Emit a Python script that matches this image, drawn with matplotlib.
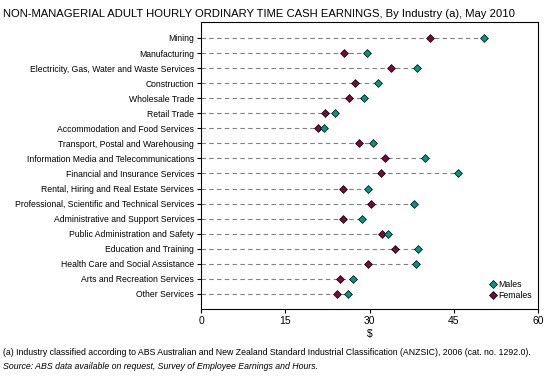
import matplotlib
matplotlib.use("Agg")
import matplotlib.pyplot as plt
from matplotlib.lines import Line2D

plt.rcParams['font.family'] = ['Liberation Sans Narrow', 'Liberation Sans', 'DejaVu Sans']

industries = [
    "Mining",
    "Manufacturing",
    "Electricity, Gas, Water and Waste Services",
    "Construction",
    "Wholesale Trade",
    "Retail Trade",
    "Accommodation and Food Services",
    "Transport, Postal and Warehousing",
    "Information Media and Telecommunications",
    "Financial and Insurance Services",
    "Rental, Hiring and Real Estate Services",
    "Professional, Scientific and Technical Services",
    "Administrative and Support Services",
    "Public Administration and Safety",
    "Education and Training",
    "Health Care and Social Assistance",
    "Arts and Recreation Services",
    "Other Services",
]
males = [50.3, 29.6, 38.5, 31.5, 29.1, 23.8, 21.9, 30.6, 39.9,
         45.8, 29.8, 37.9, 28.6, 33.3, 38.7, 38.2, 27.1, 26.2]
females = [40.7, 25.4, 33.8, 27.4, 26.3, 22.1, 20.9, 28.2, 32.8,
           32.1, 25.3, 30.2, 25.2, 32.3, 34.5, 29.8, 24.8, 24.3]
x_ticks = [0, 15, 30, 45, 60]

male_col = "#009882"
female_col = "#7a0a3c"

fig = plt.figure(figsize=(5.48, 3.78), dpi=100)
ax = fig.add_axes([0.3668, 0.1825, 0.615, 0.7593])

ypos = list(range(len(industries)))
for y, m, f in zip(ypos, males, females):
    ax.plot([0, max(m, f)], [y, y], color="#808080", lw=0.8, ls=(0, (4, 3)), zorder=1)
ax.scatter(females, ypos, marker="D", s=16, color=female_col, edgecolors="black",
           linewidths=0.5, zorder=3)
ax.scatter(males, ypos, marker="D", s=16, color=male_col, edgecolors="black",
           linewidths=0.5, zorder=3)

ax.set_xlim(0, 60)
ax.set_ylim(18.0, -1.06)
ax.set_yticks(ypos)
ax.set_yticklabels(industries, fontsize=6.2)
ax.set_xticks(x_ticks)
ax.set_xticklabels([str(t) for t in x_ticks], fontsize=7.5)
ax.tick_params(axis="y", length=3, width=0.8, pad=2)
ax.tick_params(axis="x", length=3, width=0.8, pad=2)
for s in ax.spines.values():
    s.set_linewidth(0.8)
ax.set_xlabel("$", fontsize=7.5, labelpad=2)

handles = [
    Line2D([], [], marker="D", ls="", markersize=4, markerfacecolor=male_col,
           markeredgecolor="black", markeredgewidth=0.5, label="Males"),
    Line2D([], [], marker="D", ls="", markersize=4, markerfacecolor=female_col,
           markeredgecolor="black", markeredgewidth=0.5, label="Females"),
]
ax.legend(handles=handles, loc="lower right", bbox_to_anchor=(1.0, 0.01), frameon=False,
          fontsize=6.3, handletextpad=0.1, labelspacing=0.25, handlelength=1.0,
          borderaxespad=0.3)

fig.text(0.005, 0.975, "NON-MANAGERIAL ADULT HOURLY ORDINARY TIME CASH EARNINGS, By Industry (a), May 2010",
         fontsize=8.1, va="top", ha="left")
fig.text(0.005, 0.068,
         "(a) Industry classified according to ABS Australian and New Zealand Standard Industrial "
         "Classification (ANZSIC), 2006 (cat. no. 1292.0).",
         fontsize=6.3, va="center", ha="left")
fig.text(0.005, 0.030,
         "Source: ABS data available on request, Survey of Employee Earnings and Hours.",
         fontsize=6.3, va="center", ha="left", style="italic")

fig.savefig("out.png", dpi=100)
